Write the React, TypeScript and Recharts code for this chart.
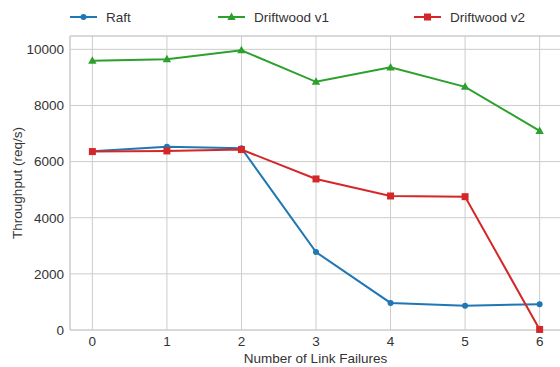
import { LineChart, Line, XAxis, YAxis, CartesianGrid, Legend, ReferenceLine } from "recharts";

const failures = [0, 1, 2, 3, 4, 5, 6];
const raft = [6365, 6525, 6477, 2775, 964, 868, 918];
const driftwoodV1 = [9593, 9643, 9964, 8843, 9357, 8664, 7093];
const driftwoodV2 = [6357, 6380, 6428, 5382, 4775, 4750, 20];
const yTicks = [0, 2000, 4000, 6000, 8000, 10000];

const data = failures.map((f, i) => ({
  f,
  raft: raft[i],
  v1: driftwoodV1[i],
  v2: driftwoodV2[i],
}));

const FONT = "'Liberation Sans', Arial, sans-serif";
const GRID = "#cccccc";
const TEXT = "#333333";
const FS = 13.5;
const Y_MAX = 10475;

type Shape = "circle" | "triangle" | "square";

const series: { key: string; name: string; color: string; shape: Shape }[] = [
  { key: "raft", name: "Raft", color: "#1f77b4", shape: "circle" },
  { key: "v1", name: "Driftwood v1", color: "#2ca02c", shape: "triangle" },
  { key: "v2", name: "Driftwood v2", color: "#d62728", shape: "square" },
];

function Marker({ cx, cy, color, shape }: { cx: number; cy: number; color: string; shape: Shape }) {
  if (cx == null || cy == null) return null;
  if (shape === "circle") return <circle cx={cx} cy={cy} r={3} fill={color} />;
  if (shape === "triangle")
    return <polygon points={`${cx},${cy - 4.5} ${cx - 4.2},${cy + 3} ${cx + 4.2},${cy + 3}`} fill={color} />;
  return <rect x={cx - 3.5} y={cy - 3.5} width={7} height={7} fill={color} />;
}

const legendX = [70, 218, 414];

function LegendContent() {
  return (
    <svg width={560} height={36} style={{ display: "block" }}>
      {series.map((s, i) => (
        <g key={s.key}>
          <line x1={legendX[i]} x2={legendX[i] + 27} y1={17} y2={17} stroke={s.color} strokeWidth={2} />
          <Marker cx={legendX[i] + 13.5} cy={17} color={s.color} shape={s.shape} />
          <text x={legendX[i] + 36} y={17} dy="0.36em" fontSize={FS} fill={TEXT} fontFamily={FONT}>
            {s.name}
          </text>
        </g>
      ))}
    </svg>
  );
}

export default function App() {
  return (
    <div style={{ position: "absolute", left: 0, top: 0, width: 560, height: 367, overflow: "hidden", background: "#fff" }}>
      <LineChart
        width={562}
        height={367}
        data={data}
        margin={{ top: 0, right: 0, left: 0, bottom: 0 }}
        style={{ fontFamily: FONT }}
      >
        <CartesianGrid stroke={GRID} strokeWidth={1} />
        <XAxis
          dataKey="f"
          type="number"
          domain={[-0.3, 6.3]}
          ticks={failures}
          height={37}
          axisLine={{ stroke: GRID }}
          tickLine={false}
          tickSize={6}
          tickMargin={0}
          tick={{ fill: TEXT, fontSize: FS }}
          label={() => (
            <text x={315.5} y={358} dy="0.36em" textAnchor="middle" fontSize={FS} fill={TEXT}>
              Number of Link Failures
            </text>
          )}
        />
        <YAxis
          type="number"
          domain={[0, Y_MAX]}
          ticks={yTicks}
          width={70}
          axisLine={{ stroke: GRID }}
          tickLine={false}
          tickSize={6}
          tickMargin={0}
          tick={{ fill: TEXT, fontSize: FS }}
          label={() => (
            <text
              x={17}
              y={183}
              dy="0.36em"
              textAnchor="middle"
              fontSize={FS}
              fill={TEXT}
              transform="rotate(-90 17 183)"
            >
              Throughput (req/s)
            </text>
          )}
        />
        <ReferenceLine y={Y_MAX} stroke={GRID} />
        <Legend
          verticalAlign="top"
          content={() => <LegendContent />}
          wrapperStyle={{ top: 0, left: 0, width: 560, height: 36 }}
        />
        {series.map((s) => (
          <Line
            key={s.key}
            dataKey={s.key}
            name={s.name}
            stroke={s.color}
            strokeWidth={2}
            isAnimationActive={false}
            dot={(p: any) => <Marker key={`${s.key}-${p.index}`} cx={p.cx} cy={p.cy} color={s.color} shape={s.shape} />}
            activeDot={false}
          />
        ))}
      </LineChart>
    </div>
  );
}
